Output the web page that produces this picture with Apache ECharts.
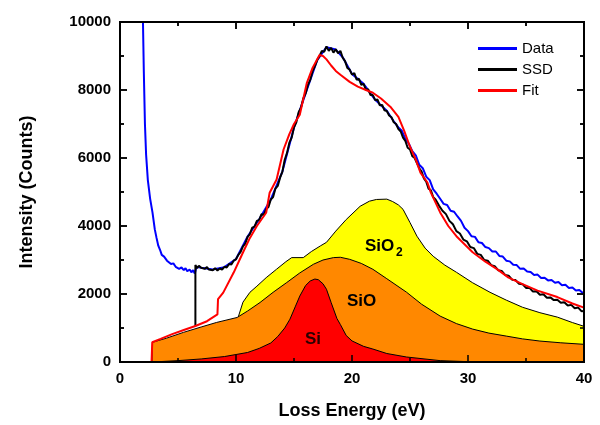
<!DOCTYPE html>
<html>
<head>
<meta charset="utf-8">
<script src="https://cdn.jsdelivr.net/npm/echarts@6/dist/echarts.min.js"></script>
<style>
  html, body { margin: 0; padding: 0; background: #fff; }
  #chart { width: 600px; height: 425px; }
</style>
</head>
<body>
<div id="chart"></div>
<script>
// loss energy (eV), intensity (counts)
var dataCurve = [
  [1.9, 11500], [1.98, 10000], [2.05, 8600], [2.15, 7000], [2.25, 6100], [2.4, 5350], [2.6, 4800],
  [2.8, 4400], [3.0, 3900], [3.15, 3650], [3.3, 3420], [3.45, 3300], [3.6, 3150], [3.8, 3100],
  [4.05, 2980], [4.2, 3000], [4.4, 2880], [4.6, 2900], [4.8, 2800], [4.95, 2820], [5.1, 2740],
  [5.3, 2780], [5.5, 2700], [5.65, 2760], [5.8, 2670], [6.0, 2720], [6.15, 2640], [6.3, 2700],
  [6.45, 2600], [6.6, 2800], [7, 2770], [8, 2720], [9, 2790], [10, 3030], [11, 3690], [12, 4200],
  [13, 4780], [14, 5600], [15, 6900], [16, 7900], [17, 8880], [17.8, 9260], [18.6, 9190],
  [19.2, 8960], [20, 8470], [21, 8180], [22, 7710], [23, 7390], [23.6, 7080], [24.0, 6900],
  [24.3, 6800], [24.6, 6560], [24.9, 6420], [25.2, 6200], [25.5, 6080], [25.8, 5800], [26.1, 5700],
  [26.4, 5450], [26.7, 5350], [27.0, 5080], [27.3, 4950], [27.6, 4800], [27.9, 4650], [28.2, 4620],
  [28.5, 4450], [28.8, 4420], [29.1, 4280], [29.4, 4150], [29.7, 3950], [30.0, 3850], [30.3, 3700],
  [30.6, 3680], [30.9, 3520], [31.2, 3500], [31.5, 3380], [31.8, 3350], [32.1, 3250], [32.4, 3250],
  [32.7, 3120], [33.0, 3100], [33.3, 2980], [33.6, 2960], [33.9, 2860], [34.2, 2850], [34.5, 2740],
  [34.8, 2750], [35.1, 2660], [35.4, 2650], [35.7, 2560], [36.0, 2570], [36.3, 2470], [36.6, 2480],
  [36.9, 2400], [37.2, 2410], [37.5, 2330], [37.8, 2350], [38.1, 2260], [38.4, 2270], [38.7, 2180],
  [39.0, 2190], [39.3, 2100], [39.6, 2120], [39.9, 2030], [40.0, 2060]
]

var ssdCurve = [
  [6.5, 1050], [6.5, 2850], [6.65, 2760], [6.8, 2830], [7.0, 2770], [7.15, 2810], [7.3, 2740],
  [7.5, 2790], [7.65, 2720], [7.8, 2770], [8.0, 2700], [8.2, 2760], [8.4, 2690], [8.6, 2750],
  [8.8, 2720], [9.0, 2800], [9.2, 2780], [9.4, 2880], [9.6, 2870], [9.8, 2980], [10.0, 3020],
  [10.2, 3150], [10.4, 3240], [10.6, 3400], [10.8, 3480], [11.0, 3680], [11.2, 3760], [11.4, 3950],
  [11.6, 3980], [11.8, 4150], [12.0, 4180], [12.2, 4350], [12.4, 4330], [12.6, 4500], [12.8, 4560],
  [13.0, 4780], [13.2, 4850], [13.4, 5100], [13.6, 5180], [13.8, 5420], [14.0, 5600], [14.2, 5950],
  [14.4, 6150], [14.6, 6450], [14.8, 6600], [15.0, 6900], [15.2, 7050], [15.4, 7350], [15.6, 7480],
  [15.8, 7750], [16.0, 7900], [16.2, 8150], [16.4, 8300], [16.6, 8550], [16.8, 8700], [17.0, 8880],
  [17.2, 9000], [17.4, 9150], [17.6, 9120], [17.8, 9280], [18.0, 9150], [18.2, 9240], [18.4, 9100],
  [18.6, 9200], [18.8, 9080], [19.0, 9150], [19.2, 8950], [19.4, 8850], [19.6, 8650], [19.8, 8600],
  [20.0, 8450], [20.2, 8500], [20.4, 8300], [20.6, 8330], [20.8, 8150], [21.0, 8180], [21.2, 8000],
  [21.4, 8020], [21.6, 7850], [21.8, 7850], [22.0, 7700], [22.2, 7720], [22.4, 7550], [22.6, 7560],
  [22.8, 7400], [23.0, 7380], [23.2, 7250], [23.4, 7200], [23.6, 7050], [23.8, 7000], [24.0, 6850],
  [24.2, 6780], [24.4, 6600], [24.6, 6500], [24.8, 6300], [25.0, 6250], [25.2, 6050], [25.4, 6000],
  [25.6, 5850], [25.8, 5700], [26.0, 5600], [26.2, 5400], [26.4, 5300], [26.6, 5100], [26.8, 5050],
  [27.0, 4850], [27.2, 4780], [27.5, 4600], [27.8, 4450], [28.1, 4350], [28.4, 4150], [28.7, 4050],
  [29.0, 3850], [29.3, 3780], [29.6, 3600], [29.9, 3550], [30.2, 3380], [30.5, 3350], [30.8, 3180],
  [31.1, 3150], [31.4, 3000], [31.7, 2980], [32.0, 2850], [32.3, 2820], [32.6, 2700], [32.9, 2680],
  [33.2, 2560], [33.5, 2540], [33.8, 2420], [34.1, 2410], [34.4, 2300], [34.7, 2290], [35.0, 2180],
  [35.3, 2180], [35.6, 2070], [35.9, 2080], [36.2, 1980], [36.5, 1990], [36.8, 1890], [37.1, 1900],
  [37.4, 1820], [37.7, 1830], [38.0, 1740], [38.3, 1760], [38.6, 1660], [38.9, 1680], [39.2, 1580],
  [39.5, 1600], [39.8, 1490], [40.0, 1500]
]

var fitCurve = [
  [0, 0], [2.72, 0], [2.78, 580], [3.5, 680], [4.5, 820], [5.5, 940], [6.5, 1060], [7.5, 1200],
  [8.4, 1400], [8.45, 1850], [8.9, 2040], [9.8, 2630], [10.6, 3220], [11.2, 3650], [11.8, 4000],
  [12.6, 4390], [12.9, 4980], [13.5, 5370], [14.1, 6250], [14.6, 6700], [15.0, 7000], [15.5, 7270],
  [16.1, 8200], [16.6, 8650], [17.2, 9030], [17.5, 9000], [17.8, 8900], [18.2, 8720], [18.6, 8560],
  [19.0, 8450], [19.8, 8240], [20.5, 8100], [21.2, 8000], [21.8, 7920], [22.5, 7750], [23.3, 7510],
  [24.0, 7210], [24.5, 6800], [25.0, 6330], [25.5, 5950], [25.9, 5570], [26.5, 5280], [26.8, 4980],
  [27.6, 4400], [28.3, 4000], [29.0, 3700], [30.4, 3230], [31.5, 2950], [32.5, 2730], [33.5, 2480],
  [34.7, 2290], [36.0, 2100], [37.7, 1910], [39.0, 1720], [40.0, 1600]
]

var sio2Area = [
  [10.2, 1330], [10.6, 1760], [11.2, 2050], [11.8, 2230], [12.6, 2480], [13.5, 2730], [14.3, 2950],
  [14.8, 3070], [15.8, 3070], [16.5, 3250], [17.3, 3420], [17.8, 3520], [18.6, 3850], [19.5, 4190],
  [20.7, 4580], [21.5, 4730], [22.1, 4780], [23.0, 4790], [23.5, 4720], [24.0, 4620], [24.4, 4490],
  [25.0, 4100], [25.6, 3700], [26.3, 3350], [27.0, 3110], [28, 2850], [29.0, 2640], [30.4, 2330],
  [31.9, 2050], [33.3, 1820], [34.7, 1610], [36.2, 1450], [37.7, 1320], [39, 1160], [40, 1050]
]

var sioArea = [
  [2.75, 0], [2.8, 580], [4, 700], [5.46, 870], [7, 1030], [8.33, 1164], [10.1, 1310], [11, 1500],
  [12.07, 1750], [13.2, 2050], [14.37, 2336], [15.5, 2620], [16.67, 2874], [17.5, 3000], [18.4, 3070],
  [19.0, 3080], [19.8, 3020], [20.8, 2900], [21.8, 2727], [23, 2450], [24.7, 2053], [26, 1700],
  [27.6, 1350], [29, 1130], [30.4, 968], [31.8, 850], [33.3, 762], [34.7, 680], [36.2, 616],
  [38, 565], [40, 520]
]

var siArea = [
  [2.8, 0], [5, 40], [7, 90], [9, 160], [11, 280], [12, 400], [13, 560], [13.6, 750], [14.2, 1000],
  [14.65, 1260], [15.1, 1620], [15.5, 1940], [16.0, 2250], [16.4, 2384], [16.8, 2440], [17.1, 2420],
  [17.5, 2300], [17.8, 2140], [18.2, 1750], [18.7, 1280], [19.0, 1100], [19.5, 780], [20.0, 620],
  [21, 460], [21.8, 381], [23, 250], [24.7, 147], [27.6, 40], [30, 10], [40, 0]
]

// tick positions for the frame (major every 10 eV / 2000 counts, minor halfway)
var xTickValues = [0, 5, 10, 15, 20, 25, 30, 35, 40]
var yTickValues = [0, 1000, 2000, 3000, 4000, 5000, 6000, 7000, 8000, 9000, 10000]

var myChart = echarts.init(document.getElementById('chart'))
var font = 'Liberation Sans'

function areaSeries(name, data, color) {
  return {
    name: name,
    type: 'line',
    data: data,
    symbol: 'none',
    lineStyle: { color: '#000', width: 1 },
    areaStyle: { color: color, opacity: 1 }
  }
}

function lineSeries(name, data, color) {
  return {
    name: name,
    type: 'line',
    data: data,
    symbol: 'none',
    lineStyle: { color: color, width: 2 },
    itemStyle: { color: color }
  }
}

function frameAxis(extra) {
  var ax = {
    type: 'value',
    axisLine: { show: true, onZero: false, lineStyle: { color: '#000', width: 2 } },
    axisTick: { show: true, inside: true, length: 7, lineStyle: { color: '#000', width: 1.5 } },
    minorTick: { show: true, splitNumber: 2, length: 4, lineStyle: { color: '#000', width: 1.5 } },
    splitLine: { show: false },
    axisLabel: { show: false }
  }
  for (var k in extra) ax[k] = extra[k]
  return ax
}

var labels = [
  { type: 'text', left: 365, top: 238, z: 100, style: { text: 'SiO', font: 'bold 17px Liberation Sans', fill: '#000' } },
  { type: 'text', left: 396, top: 247, z: 100, style: { text: '2', font: 'bold 12px Liberation Sans', fill: '#000' } },
  { type: 'text', left: 347, top: 293, z: 100, style: { text: 'SiO', font: 'bold 17px Liberation Sans', fill: '#000' } },
  { type: 'text', left: 305, top: 331, z: 100, style: { text: 'Si', font: 'bold 17px Liberation Sans', fill: '#2a0000' } }
]

var option = {
  animation: false,
  grid: { left: 120, right: 16, top: 22, bottom: 62 },
  legend: {
    data: [
      { name: 'Data', icon: 'rect' },
      { name: 'SSD', icon: 'rect' },
      { name: 'Fit', icon: 'rect' }
    ],
    orient: 'vertical',
    left: 473,
    top: 36,
    itemWidth: 39,
    itemHeight: 3,
    itemGap: 6,
    textStyle: { fontFamily: font, fontSize: 15, color: '#000' }
  },
  xAxis: [
    frameAxis({
      min: 0, max: 40, interval: 10,
      name: 'Loss Energy (eV)', nameLocation: 'middle', nameGap: 40,
      nameTextStyle: { fontFamily: font, fontSize: 18, fontWeight: 'bold', color: '#000' },
      axisLabel: { show: true, fontFamily: font, fontSize: 15, fontWeight: 'bold', color: '#000', margin: 9 }
    }),
    frameAxis({ min: 0, max: 40, interval: 10, position: 'top' })
  ],
  yAxis: [
    frameAxis({
      min: 0, max: 10000, interval: 2000,
      name: 'Intensity (Counts)', nameLocation: 'middle', nameGap: 84,
      nameTextStyle: { fontFamily: font, fontSize: 18, fontWeight: 'bold', color: '#000' },
      axisLabel: {
        show: true, fontFamily: font, fontSize: 15, fontWeight: 'bold', color: '#000', margin: 9,
        formatter: function(v) { return String(v) }
      }
    }),
    frameAxis({ min: 0, max: 10000, interval: 2000, position: 'right' })
  ],
  graphic: labels,
  series: [
    areaSeries('SiO2', sio2Area, '#ffff00'),
    areaSeries('SiO', sioArea, '#ff8800'),
    areaSeries('Si', siArea, '#ff0000'),
    lineSeries('Data', dataCurve, '#0000ff'),
    lineSeries('SSD', ssdCurve, '#000000'),
    lineSeries('Fit', fitCurve, '#ff0000'),
    { type: 'line', data: [], xAxisIndex: 1, yAxisIndex: 1 }
  ]
}

myChart.setOption(option)

// the mirrored frame sometimes does not show up, so draw it again from the axis scale
function framePieces() {
  var lo = myChart.convertToPixel({ gridIndex: 0 }, [0, 0])
  var hi = myChart.convertToPixel({ gridIndex: 0 }, [40, 10000])
  var l = lo[0], b = lo[1], r = hi[0], t = hi[1]
  var st = { stroke: '#000', lineWidth: 1.5 }
  var out = [{
    type: 'rect', z: 90, silent: true,
    shape: { x: l, y: t, width: r - l, height: b - t },
    style: { fill: 'none', stroke: '#000', lineWidth: 2 }
  }]
  xTickValues.forEach(function(v) {
    var px = myChart.convertToPixel({ gridIndex: 0 }, [v, 0])[0]
    var len = v % 10 === 0 ? 7 : 4
    out.push({ type: 'line', z: 90, silent: true, shape: { x1: px, y1: b, x2: px, y2: b - len }, style: st })
    out.push({ type: 'line', z: 90, silent: true, shape: { x1: px, y1: t, x2: px, y2: t + len }, style: st })
  })
  yTickValues.forEach(function(v) {
    var py = myChart.convertToPixel({ gridIndex: 0 }, [0, v])[1]
    var len = v % 2000 === 0 ? 7 : 4
    out.push({ type: 'line', z: 90, silent: true, shape: { x1: l, y1: py, x2: l + len, y2: py }, style: st })
    out.push({ type: 'line', z: 90, silent: true, shape: { x1: r, y1: py, x2: r - len, y2: py }, style: st })
  })
  return out
}

myChart.setOption({ graphic: labels.concat(framePieces()) })
</script>
</body>
</html>
